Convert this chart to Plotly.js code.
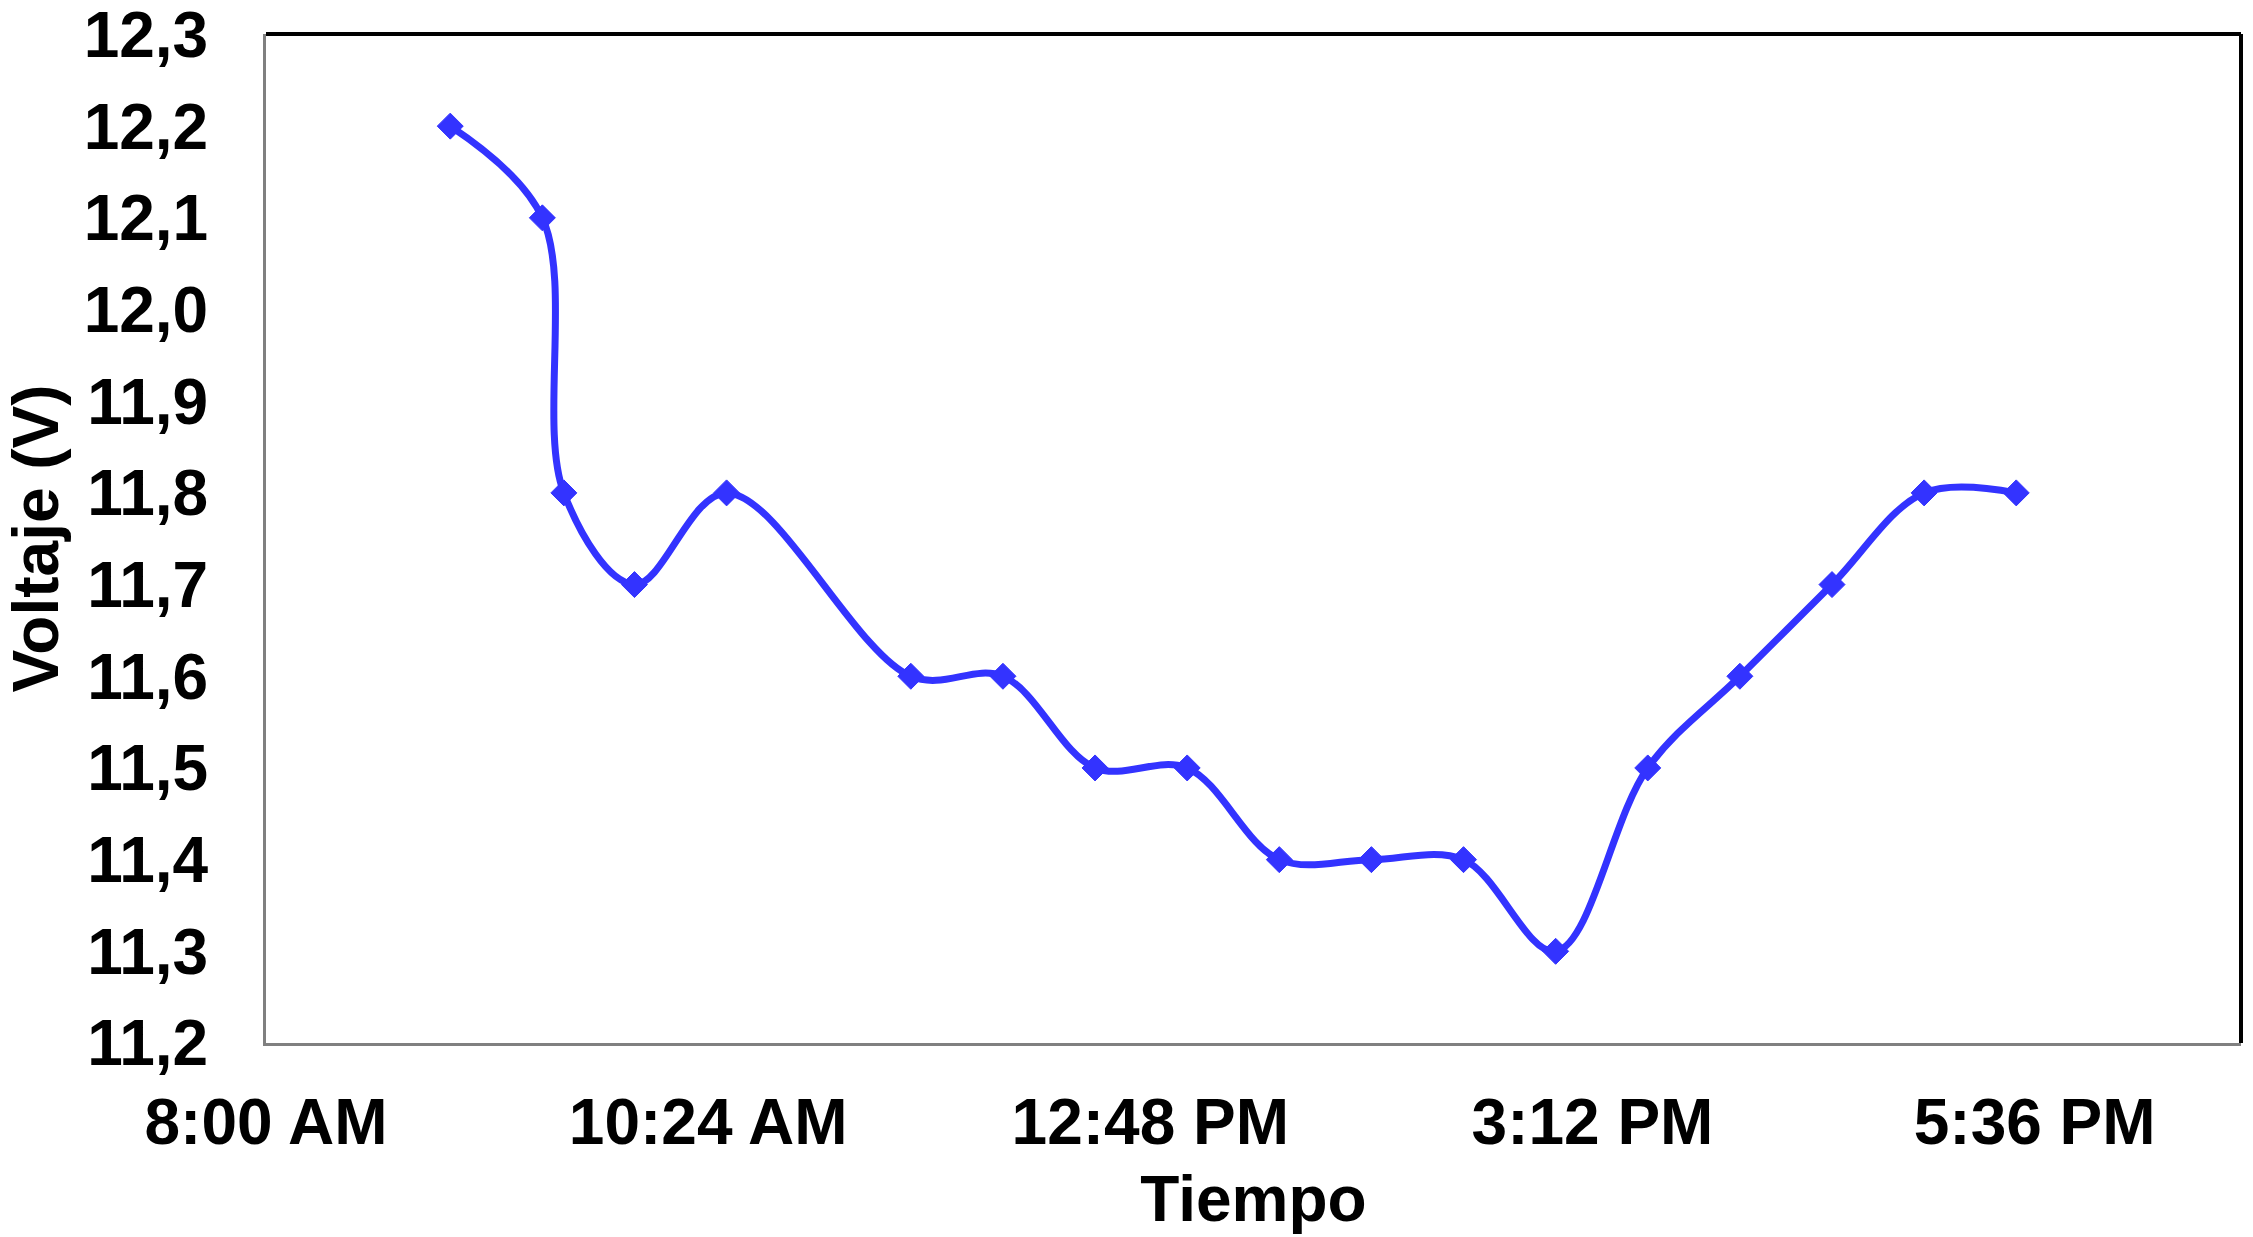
<!DOCTYPE html>
<html>
<head>
<meta charset="utf-8">
<script src="https://cdn.plot.ly/plotly-3.0.1.min.js"></script>
<style>
  html, body { margin: 0; padding: 0; background: #ffffff; }
  #chart { width: 2253px; height: 1237px; }
</style>
</head>
<body>
<div id="chart"></div>
<script>
// Time of each reading (same day) and measured voltage
const times = [
  '2000-01-01 09:00', '2000-01-01 09:30', '2000-01-01 09:37', '2000-01-01 10:00',
  '2000-01-01 10:30', '2000-01-01 11:30', '2000-01-01 12:00', '2000-01-01 12:30',
  '2000-01-01 13:00', '2000-01-01 13:30', '2000-01-01 14:00', '2000-01-01 14:30',
  '2000-01-01 15:00', '2000-01-01 15:30', '2000-01-01 16:00', '2000-01-01 16:30',
  '2000-01-01 17:00', '2000-01-01 17:30'
];
const voltage = [12.2, 12.1, 11.8, 11.7, 11.8, 11.6, 11.6, 11.5, 11.5, 11.4, 11.4, 11.4, 11.3, 11.5, 11.6, 11.7, 11.8, 11.8];

const xRange = ['2000-01-01 08:00', '2000-01-01 18:43:12'];
const xTick0 = '2000-01-01 08:00';
const xDtickMs = 2.4 * 3600 * 1000; // 2 h 24 min
const yRange = [11.2, 12.3005];
const yTickVals = [11.2, 11.3, 11.4, 11.5, 11.6, 11.7, 11.8, 11.9, 12.0, 12.1, 12.2, 12.3];

const xTitle = 'Tiempo';
const yTitle = 'Voltaje (V)';

const blue = 'rgb(51,51,255)';
const fontFam = '"Liberation Sans", Arial, sans-serif';

const trace = {
  type: 'scatter',
  mode: 'lines+markers',
  x: times,
  y: voltage,
  line: { color: blue, width: 7, shape: 'spline', smoothing: 1 },
  marker: { symbol: 'diamond', size: 20, color: blue, line: { color: blue, width: 1 } },
  showlegend: false,
  hoverinfo: 'x+y'
};

const layout = {
  width: 2253,
  height: 1237,
  paper_bgcolor: '#ffffff',
  plot_bgcolor: '#ffffff',
  separators: ',.',
  margin: { l: 266, r: 12, t: 34, b: 194 },
  font: { family: fontFam, color: '#000000' },
  xaxis: {
    type: 'date',
    range: xRange,
    tick0: xTick0,
    dtick: xDtickMs,
    tickformat: '%-I:%M %p',
    showgrid: false,
    zeroline: false,
    ticks: '',
    ticklabelstandoff: 21,
    showline: true,
    linecolor: '#808080',
    linewidth: 3,
    tickfont: { family: fontFam, size: 64, color: '#000000', weight: 'bold' },
    title: { text: xTitle, font: { family: fontFam, size: 64, color: '#000000', weight: 'bold' }, standoff: 20 },
    automargin: false,
    fixedrange: true
  },
  yaxis: {
    range: yRange,
    tickmode: 'array',
    tickvals: yTickVals,
    tickformat: '.1f',
    showgrid: false,
    zeroline: false,
    ticks: '',
    ticklabelstandoff: 42,
    ticklabeloverflow: 'allow',
    showline: true,
    linecolor: '#808080',
    linewidth: 3,
    tickfont: { family: fontFam, size: 64, color: '#000000', weight: 'bold' },
    title: { text: yTitle, font: { family: fontFam, size: 64, color: '#000000', weight: 'bold' }, standoff: 20 },
    automargin: false,
    fixedrange: true
  },
  shapes: [
    { type: 'line', xref: 'paper', yref: 'paper', x0: 0, x1: 1, y0: 1, y1: 1, line: { color: '#000000', width: 4 } },
    { type: 'line', xref: 'paper', yref: 'paper', x0: 1, x1: 1, y0: 0, y1: 1, line: { color: '#000000', width: 4 } }
  ]
};

Plotly.newPlot('chart', [trace], layout, { displayModeBar: false, staticPlot: true });
</script>
</body>
</html>
